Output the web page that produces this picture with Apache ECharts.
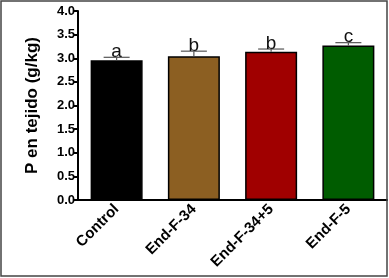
<!DOCTYPE html>
<html>
<head>
<meta charset="utf-8">
<script src="https://cdn.jsdelivr.net/npm/echarts@6/dist/echarts.min.js"></script>
<style>
  html, body { margin: 0; padding: 0; background: #fff; }
  #chart { width: 389px; height: 278px; }
</style>
</head>
<body>
<div id="chart"></div>
<script>
// data
const categories = ['Control', 'End-F-34', 'End-F-34+5', 'End-F-5']
const means = [2.96, 3.04, 3.135, 3.27]
const errors = [0.06, 0.11, 0.06, 0.06]
const letters = ['a', 'b', 'b', 'c']
const barColors = ['#000000', '#8c5f22', '#a00000', '#005c00']
const yTicks = [0, 0.5, 1, 1.5, 2, 2.5, 3, 3.5, 4]

const font = '"Liberation Sans", Arial, sans-serif'
const chart = echarts.init(document.getElementById('chart'))

const option = {
    animation: false,
    grid: { left: 78, right: 2, top: 11, bottom: 78 },
    graphic: [{
        type: 'rect',
        shape: { x: 1, y: 1, width: 386, height: 275 },
        style: { fill: 'none', stroke: '#444', lineWidth: 1.5 },
        z: 100
    }],
    xAxis: {
        type: 'category',
        data: categories,
        axisLine: { lineStyle: { color: '#000', width: 2 } },
        axisTick: { alignWithLabel: true, length: 5, lineStyle: { color: '#000', width: 2 } },
        axisLabel: {
            rotate: 45, margin: 7, color: '#000', fontWeight: 'bold',
            fontSize: 15, fontFamily: font, interval: 0
        }
    },
    yAxis: {
        type: 'value',
        min: yTicks[0],
        max: yTicks[yTicks.length - 1],
        interval: 0.5,
        name: 'P en tejido (g/kg)',
        nameLocation: 'middle',
        nameGap: 37,
        nameTextStyle: { color: '#000', fontWeight: 'bold', fontSize: 17, fontFamily: font },
        splitLine: { show: false },
        axisLine: { show: true, lineStyle: { color: '#000', width: 2 } },
        axisTick: { show: true, length: 5, lineStyle: { color: '#000', width: 2 } },
        axisLabel: {
            margin: 3, color: '#000', fontWeight: 'bold', fontSize: 13, fontFamily: font,
            formatter: v => v.toFixed(1)
        }
    },
    series: [
        {
            type: 'bar',
            barWidth: 52,
            data: means.map((v, i) => ({
                value: v,
                itemStyle: { color: barColors[i], borderColor: '#000', borderWidth: 1.5 }
            }))
        },
        {
            type: 'custom',
            z: 5,
            data: means.map((v, i) => [i, v, errors[i]]),
            encode: { x: 0, y: 1 },
            renderItem: function (params, api) {
                const i = api.value(0)
                const v = api.value(1)
                const e = api.value(2)
                const base = api.coord([i, v])
                const top = api.coord([i, v + e])
                const half = 13
                const stroke = { stroke: '#555', lineWidth: 1.2 }
                return {
                    type: 'group',
                    children: [
                        { type: 'line', shape: { x1: top[0], y1: base[1], x2: top[0], y2: top[1] }, style: stroke },
                        { type: 'line', shape: { x1: top[0] - half, y1: top[1], x2: top[0] + half, y2: top[1] }, style: stroke },
                        {
                            type: 'text', x: top[0], y: top[1] + 4,
                            style: {
                                text: letters[params.dataIndex], fill: '#111',
                                font: '19px ' + font, textAlign: 'center', textVerticalAlign: 'bottom'
                            }
                        }
                    ]
                }
            }
        }
    ]
}
chart.setOption(option)
</script>
</body>
</html>
